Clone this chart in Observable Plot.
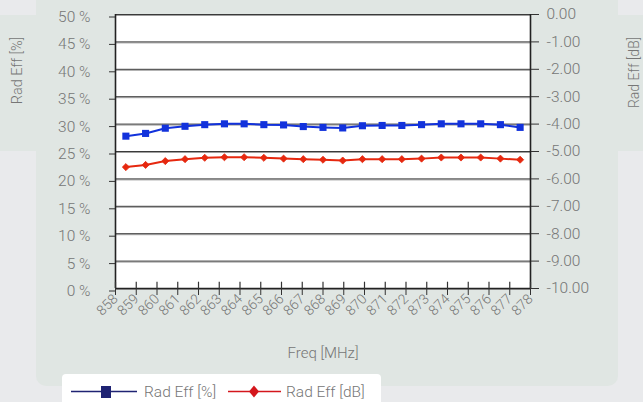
<!DOCTYPE html>
<html><head><meta charset="utf-8">
<script src="https://cdn.jsdelivr.net/npm/d3@7"></script>
<script src="https://cdn.jsdelivr.net/npm/@observablehq/plot@0.6"></script>
<style>
html,body{margin:0;padding:0;width:643px;height:402px;overflow:hidden;background:#e9eaec;font-family:"Roboto Light",Roboto,"Liberation Sans",sans-serif;}
#bgA{position:absolute;left:36px;top:-20px;width:582px;height:406px;background:#e0e6e3;border-radius:10px;}
#bgB{position:absolute;left:-20px;top:15px;width:683px;height:136px;background:#e0e6e3;border-radius:14px;}
#chart{position:absolute;left:0;top:0;}
#legend{position:absolute;left:62px;top:374px;width:319px;height:40px;background:#fff;border-radius:4px;}
</style></head><body>
<div id="bgA"></div><div id="bgB"></div><div id="chart"></div><div id="legend"></div>
<script>
const seriesNames = ["Rad Eff [%]", "Rad Eff [dB]"];
const freqMHz = [858.5, 859.45, 860.4, 861.35, 862.3, 863.25, 864.2, 865.15, 866.1, 867.05, 868.0,
  868.95, 869.9, 870.85, 871.8, 872.75, 873.7, 874.65, 875.6, 876.55, 877.5];
const radEffPct = [27.8, 28.3, 29.25, 29.6, 29.9, 30.05, 30.05, 29.9, 29.85, 29.55, 29.4,
  29.3, 29.7, 29.75, 29.75, 29.9, 30.05, 30.05, 30.05, 29.9, 29.4];
const radEffDb = [-5.57, -5.49, -5.35, -5.28, -5.23, -5.21, -5.21, -5.23, -5.26, -5.28, -5.30,
  -5.33, -5.28, -5.28, -5.28, -5.26, -5.22, -5.22, -5.22, -5.26, -5.30];
const xTickLabels = [858, 859, 860, 861, 862, 863, 864, 865, 866, 867, 868, 869, 870, 871, 872, 873, 874, 875, 876, 877, 878];
const pctTicks = [0, 5, 10, 15, 20, 25, 30, 35, 40, 45, 50];
const dbTicks = [0, -1, -2, -3, -4, -5, -6, -7, -8, -9, -10];
const axisTitles = {left: "Rad Eff [%]", right: "Rad Eff [dB]", bottom: "Freq [MHz]"};

const BLUE = "#1232dc", RED = "#e6280f";
const FONT = "'Roboto Light', Roboto, 'Liberation Sans', sans-serif";
// right axis (dB, -10..0) is drawn on the shared percent scale (0..50)
const dbToPct = d => (d + 10) * 5;

const pctRows = freqMHz.map((f, i) => ({f, v: radEffPct[i]}));
const dbRows = freqMHz.map((f, i) => ({f, v: dbToPct(radEffDb[i])}));

const chart = Plot.plot({
  width: 643, height: 365,
  marginLeft: 115, marginRight: 113, marginTop: 14, marginBottom: 77,
  style: {background: "transparent", fontFamily: FONT, fontWeight: 300, color: "#757575", overflow: "visible"},
  x: {type: "linear", domain: [858, 878]},
  y: {domain: [0, 50]},
  marks: [
    Plot.frame({fill: "white", stroke: null}),
    Plot.ruleY(pctTicks, {stroke: "#a0a0a0", strokeWidth: 1, dy: 1}),
    Plot.ruleY(pctTicks, {stroke: "#3a3a3a", strokeWidth: 1}),
    Plot.ruleX([858, 878], {stroke: "#222", strokeWidth: 1.6}),
    Plot.ruleY([0], {stroke: "#222", strokeWidth: 1.6}),
    Plot.ruleX(xTickLabels, {y1: 0, y2: 1.15, stroke: "#333", strokeWidth: 1.2}),
    Plot.axisY({anchor: "left", ticks: pctTicks, tickFormat: d => d + " %", tickSize: 6, tickPadding: 19,
      fontSize: 15.5, stroke: "#333", fill: "#767676", dy: 2.5, label: null}),
    Plot.axisY({anchor: "right", ticks: dbTicks.map(dbToPct), tickFormat: d => (d / 5 - 10).toFixed(2),
      tickSize: 8, tickPadding: 8, fontSize: 15.5, stroke: "#333", fill: "#767676", label: null}),
    Plot.axisX({ticks: xTickLabels, tickFormat: d => String(d), tickRotate: -45, tickSize: 7, tickPadding: 1,
      fontSize: 14, stroke: "#333", fill: "#767676", label: null}),
    Plot.line(dbRows, {x: "f", y: "v", stroke: RED, strokeWidth: 2}),
    Plot.dot(dbRows, {x: "f", y: "v", symbol: "diamond2", r: 3.2, fill: RED, stroke: RED, strokeWidth: 0.8}),
    Plot.line(pctRows, {x: "f", y: "v", stroke: BLUE, strokeWidth: 2}),
    Plot.dot(pctRows, {x: "f", y: "v", symbol: "square", r: 4, fill: BLUE}),
    Plot.text([axisTitles.left], {frameAnchor: "top-left", dx: -98.5, dy: 56, rotate: -90, text: d => d,
      fontSize: 14.5, fill: "#767676", textAnchor: "middle", lineAnchor: "middle"}),
    Plot.text([axisTitles.right], {frameAnchor: "top-right", dx: 104, dy: 58, rotate: -90, text: d => d,
      fontSize: 14, fill: "#767676", textAnchor: "middle", lineAnchor: "middle"}),
    Plot.text([axisTitles.bottom], {frameAnchor: "bottom", dy: 65, text: d => d,
      fontSize: 15, fill: "#767676", textAnchor: "middle", lineAnchor: "middle"})
  ]
});
document.getElementById("chart").appendChild(chart);

// legend
const ns = "http://www.w3.org/2000/svg";
const lg = document.createElementNS(ns, "svg");
lg.setAttribute("width", 319); lg.setAttribute("height", 28);
lg.style.fontFamily = FONT;
lg.style.fontWeight = 300;
lg.innerHTML = `
  <line x1="9" x2="75" y1="17.5" y2="17.5" stroke="#1f2373" stroke-width="1.4"/>
  <rect x="39" y="12" width="10" height="12" fill="#1f2373"/>
  <text x="82" y="23" font-size="15.5" fill="#757575">${seriesNames[0]}</text>
  <line x1="166" x2="219" y1="17.5" y2="17.5" stroke="#d4161c" stroke-width="1.4"/>
  <path d="M192,11.5 L197,17.5 L192,23.5 L187,17.5 Z" fill="#d4161c"/>
  <text x="224" y="23" font-size="15.5" fill="#757575">${seriesNames[1]}</text>`;
document.getElementById("legend").appendChild(lg);
</script>
</body></html>
